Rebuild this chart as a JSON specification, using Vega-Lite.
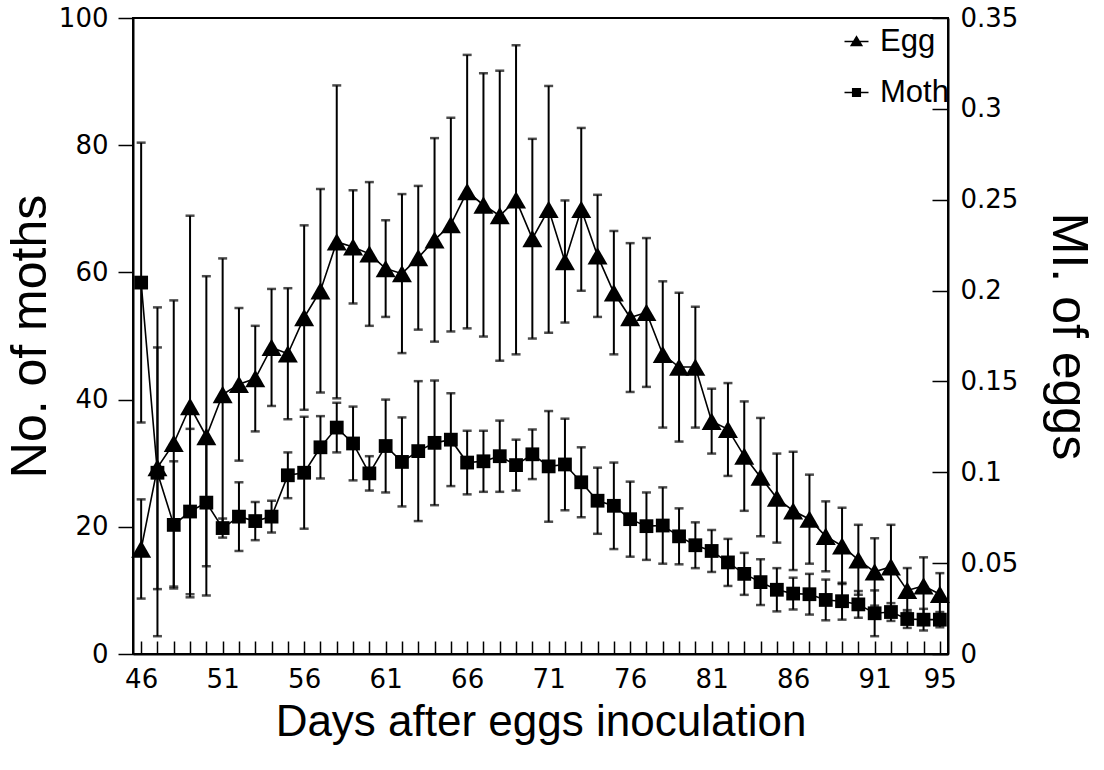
{
  "$schema": "https://vega.github.io/schema/vega-lite/v6.json",
  "width": 815,
  "height": 636,
  "autosize": {"type": "none"},
  "padding": {"left": 133, "top": 18, "right": 156, "bottom": 116},
  "background": "white",
  "config": {
    "view": {"stroke": "black", "strokeWidth": 2},
    "font": "Liberation Sans",
    "axis": {"grid": false, "domainColor": "black", "domainWidth": 2, "tickColor": "black", "tickWidth": 1.5, "labelColor": "black", "titleColor": "black", "titleFontWeight": "normal", "titleFont": "Liberation Sans", "labelFont": "DejaVu Sans"}
  },
  "datasets": {
    "moth": [
      {"day": 46, "series": "Moth", "v": 58.4, "lo": 36.4, "hi": 80.4},
      {"day": 47, "series": "Moth", "v": 28.5, "lo": 2.8, "hi": 54.5},
      {"day": 48, "series": "Moth", "v": 20.3, "lo": 10.3, "hi": 30.3},
      {"day": 49, "series": "Moth", "v": 22.4, "lo": 9.4, "hi": 35.4},
      {"day": 50, "series": "Moth", "v": 23.8, "lo": 13.8, "hi": 33.8},
      {"day": 51, "series": "Moth", "v": 19.8, "lo": 18.3, "hi": 21.3},
      {"day": 52, "series": "Moth", "v": 21.6, "lo": 16.2, "hi": 27.0},
      {"day": 53, "series": "Moth", "v": 20.9, "lo": 17.9, "hi": 23.9},
      {"day": 54, "series": "Moth", "v": 21.6, "lo": 19.1, "hi": 24.1},
      {"day": 55, "series": "Moth", "v": 28.1, "lo": 24.5, "hi": 31.7},
      {"day": 56, "series": "Moth", "v": 28.5, "lo": 19.7, "hi": 37.3},
      {"day": 57, "series": "Moth", "v": 32.5, "lo": 27.6, "hi": 37.4},
      {"day": 58, "series": "Moth", "v": 35.6, "lo": 31.7, "hi": 39.5},
      {"day": 59, "series": "Moth", "v": 33.1, "lo": 27.3, "hi": 38.9},
      {"day": 60, "series": "Moth", "v": 28.4, "lo": 25.7, "hi": 31.1},
      {"day": 61, "series": "Moth", "v": 32.7, "lo": 25.4, "hi": 40.0},
      {"day": 62, "series": "Moth", "v": 30.2, "lo": 23.2, "hi": 37.2},
      {"day": 63, "series": "Moth", "v": 31.9, "lo": 20.9, "hi": 42.9},
      {"day": 64, "series": "Moth", "v": 33.2, "lo": 23.4, "hi": 43.0},
      {"day": 65, "series": "Moth", "v": 33.7, "lo": 26.4, "hi": 41.0},
      {"day": 66, "series": "Moth", "v": 30.1, "lo": 25.1, "hi": 35.1},
      {"day": 67, "series": "Moth", "v": 30.3, "lo": 25.5, "hi": 35.1},
      {"day": 68, "series": "Moth", "v": 31.1, "lo": 25.5, "hi": 36.7},
      {"day": 69, "series": "Moth", "v": 29.7, "lo": 25.7, "hi": 33.7},
      {"day": 70, "series": "Moth", "v": 31.4, "lo": 27.5, "hi": 35.3},
      {"day": 71, "series": "Moth", "v": 29.5, "lo": 20.8, "hi": 38.2},
      {"day": 72, "series": "Moth", "v": 29.8, "lo": 22.6, "hi": 37.0},
      {"day": 73, "series": "Moth", "v": 27.0, "lo": 21.5, "hi": 32.5},
      {"day": 74, "series": "Moth", "v": 24.1, "lo": 18.9, "hi": 29.3},
      {"day": 75, "series": "Moth", "v": 23.3, "lo": 16.5, "hi": 30.1},
      {"day": 76, "series": "Moth", "v": 21.2, "lo": 15.3, "hi": 27.1},
      {"day": 77, "series": "Moth", "v": 20.1, "lo": 14.8, "hi": 25.4},
      {"day": 78, "series": "Moth", "v": 20.2, "lo": 14.2, "hi": 26.2},
      {"day": 79, "series": "Moth", "v": 18.5, "lo": 14.1, "hi": 22.9},
      {"day": 80, "series": "Moth", "v": 17.1, "lo": 13.5, "hi": 20.7},
      {"day": 81, "series": "Moth", "v": 16.2, "lo": 12.9, "hi": 19.5},
      {"day": 82, "series": "Moth", "v": 14.4, "lo": 10.7, "hi": 18.1},
      {"day": 83, "series": "Moth", "v": 12.6, "lo": 9.3, "hi": 15.9},
      {"day": 84, "series": "Moth", "v": 11.3, "lo": 7.7, "hi": 14.9},
      {"day": 85, "series": "Moth", "v": 10.1, "lo": 6.7, "hi": 13.5},
      {"day": 86, "series": "Moth", "v": 9.5, "lo": 7.0, "hi": 12.0},
      {"day": 87, "series": "Moth", "v": 9.4, "lo": 6.2, "hi": 12.6},
      {"day": 88, "series": "Moth", "v": 8.5, "lo": 5.3, "hi": 11.7},
      {"day": 89, "series": "Moth", "v": 8.3, "lo": 5.4, "hi": 11.2},
      {"day": 90, "series": "Moth", "v": 7.8, "lo": 5.7, "hi": 9.9},
      {"day": 91, "series": "Moth", "v": 6.4, "lo": 2.8, "hi": 10.0},
      {"day": 92, "series": "Moth", "v": 6.6, "lo": 5.2, "hi": 8.0},
      {"day": 93, "series": "Moth", "v": 5.5, "lo": 4.1, "hi": 6.9},
      {"day": 94, "series": "Moth", "v": 5.4, "lo": 3.7, "hi": 7.1},
      {"day": 95, "series": "Moth", "v": 5.4, "lo": 4.2, "hi": 6.6}
    ],
    "egg": [
      {"day": 46, "series": "Egg", "v": 0.0578, "lo": 0.0305, "hi": 0.0851},
      {"day": 47, "series": "Egg", "v": 0.1026, "lo": 0.0357, "hi": 0.1687},
      {"day": 48, "series": "Egg", "v": 0.1159, "lo": 0.0371, "hi": 0.1946},
      {"day": 49, "series": "Egg", "v": 0.1362, "lo": 0.0312, "hi": 0.2412},
      {"day": 50, "series": "Egg", "v": 0.1197, "lo": 0.0322, "hi": 0.2079},
      {"day": 51, "series": "Egg", "v": 0.1428, "lo": 0.0679, "hi": 0.2177},
      {"day": 52, "series": "Egg", "v": 0.1484, "lo": 0.1064, "hi": 0.1904},
      {"day": 53, "series": "Egg", "v": 0.1516, "lo": 0.1225, "hi": 0.1806},
      {"day": 54, "series": "Egg", "v": 0.1687, "lo": 0.1365, "hi": 0.2009},
      {"day": 55, "series": "Egg", "v": 0.1652, "lo": 0.1292, "hi": 0.2013},
      {"day": 56, "series": "Egg", "v": 0.1852, "lo": 0.1344, "hi": 0.2359},
      {"day": 57, "series": "Egg", "v": 0.1999, "lo": 0.1439, "hi": 0.2559},
      {"day": 58, "series": "Egg", "v": 0.2268, "lo": 0.1407, "hi": 0.3129},
      {"day": 59, "series": "Egg", "v": 0.2240, "lo": 0.1929, "hi": 0.2552},
      {"day": 60, "series": "Egg", "v": 0.2202, "lo": 0.1806, "hi": 0.2597},
      {"day": 61, "series": "Egg", "v": 0.2121, "lo": 0.1855, "hi": 0.2387},
      {"day": 62, "series": "Egg", "v": 0.2093, "lo": 0.1656, "hi": 0.2531},
      {"day": 63, "series": "Egg", "v": 0.2181, "lo": 0.1785, "hi": 0.2576},
      {"day": 64, "series": "Egg", "v": 0.2279, "lo": 0.1719, "hi": 0.2839},
      {"day": 65, "series": "Egg", "v": 0.2363, "lo": 0.1775, "hi": 0.2951},
      {"day": 66, "series": "Egg", "v": 0.2545, "lo": 0.1792, "hi": 0.3297},
      {"day": 67, "series": "Egg", "v": 0.2471, "lo": 0.1747, "hi": 0.3196},
      {"day": 68, "series": "Egg", "v": 0.2412, "lo": 0.1614, "hi": 0.3210},
      {"day": 69, "series": "Egg", "v": 0.2499, "lo": 0.1649, "hi": 0.3350},
      {"day": 70, "series": "Egg", "v": 0.2286, "lo": 0.1736, "hi": 0.2835},
      {"day": 71, "series": "Egg", "v": 0.2447, "lo": 0.1768, "hi": 0.3126},
      {"day": 72, "series": "Egg", "v": 0.2160, "lo": 0.1824, "hi": 0.2496},
      {"day": 73, "series": "Egg", "v": 0.2447, "lo": 0.1999, "hi": 0.2895},
      {"day": 74, "series": "Egg", "v": 0.2191, "lo": 0.1855, "hi": 0.2527},
      {"day": 75, "series": "Egg", "v": 0.1988, "lo": 0.1649, "hi": 0.2328},
      {"day": 76, "series": "Egg", "v": 0.1852, "lo": 0.1442, "hi": 0.2261},
      {"day": 77, "series": "Egg", "v": 0.1880, "lo": 0.1470, "hi": 0.2289},
      {"day": 78, "series": "Egg", "v": 0.1649, "lo": 0.1246, "hi": 0.2051},
      {"day": 79, "series": "Egg", "v": 0.1579, "lo": 0.1169, "hi": 0.1988},
      {"day": 80, "series": "Egg", "v": 0.1579, "lo": 0.1246, "hi": 0.1911},
      {"day": 81, "series": "Egg", "v": 0.1281, "lo": 0.1103, "hi": 0.1460},
      {"day": 82, "series": "Egg", "v": 0.1236, "lo": 0.0980, "hi": 0.1491},
      {"day": 83, "series": "Egg", "v": 0.1089, "lo": 0.0788, "hi": 0.1390},
      {"day": 84, "series": "Egg", "v": 0.0973, "lo": 0.0648, "hi": 0.1299},
      {"day": 85, "series": "Egg", "v": 0.0858, "lo": 0.0613, "hi": 0.1103},
      {"day": 86, "series": "Egg", "v": 0.0788, "lo": 0.0462, "hi": 0.1113},
      {"day": 87, "series": "Egg", "v": 0.0742, "lo": 0.0497, "hi": 0.0987},
      {"day": 88, "series": "Egg", "v": 0.0648, "lo": 0.0455, "hi": 0.0840},
      {"day": 89, "series": "Egg", "v": 0.0595, "lo": 0.0385, "hi": 0.0805},
      {"day": 90, "series": "Egg", "v": 0.0518, "lo": 0.0326, "hi": 0.0711},
      {"day": 91, "series": "Egg", "v": 0.0452, "lo": 0.0266, "hi": 0.0637},
      {"day": 92, "series": "Egg", "v": 0.0480, "lo": 0.0249, "hi": 0.0711},
      {"day": 93, "series": "Egg", "v": 0.0350, "lo": 0.0228, "hi": 0.0473},
      {"day": 94, "series": "Egg", "v": 0.0375, "lo": 0.0217, "hi": 0.0532},
      {"day": 95, "series": "Egg", "v": 0.0329, "lo": 0.0214, "hi": 0.0445}
    ]
  },
  "layer": [
    {
      "data": {"name": "moth"},
      "encoding": {
        "x": {
          "field": "day", "type": "quantitative",
          "scale": {"domain": [45.5, 95.5], "nice": false, "zero": false},
          "axis": {
            "title": "Days after eggs inoculation",
            "values": [46,51,56,61,66,71,76,81,86,91,95],
            "labelOverlap": false,
            "labelFlush": false,
            "ticks": false,
            "labelPadding": 12,
            "labelFontSize": 26,
            "titleFontSize": 44,
            "titlePadding": 8
          }
        }
      },
      "layer": [
        {
          "mark": {"type": "errorbar", "color": "black", "thickness": 2, "ticks": {"size": 9, "thickness": 2.5}},
          "encoding": {
            "y": {"field": "lo", "type": "quantitative", "scale": {"domain": [0, 100], "nice": false},
              "axis": {"title": "No. of moths", "orient": "left", "values": [0,20,40,60,80,100], "tickSize": 15, "labelPadding": 10, "labelFontSize": 26, "titleFontSize": 50, "titlePadding": 3}},
            "y2": {"field": "hi"}
          }
        },
        {
          "mark": {"type": "line", "color": "black", "strokeWidth": 1.6},
          "encoding": {
            "y": {"field": "v", "type": "quantitative", "scale": {"domain": [0, 100], "nice": false},
              "axis": {"title": "No. of moths", "orient": "left", "values": [0,20,40,60,80,100], "tickSize": 15, "labelPadding": 10, "labelFontSize": 26, "titleFontSize": 50, "titlePadding": 3}}
          }
        },
        {
          "mark": {"type": "point", "filled": true, "color": "black", "opacity": 1, "size": 190, "shape": "square"},
          "encoding": {
            "y": {"field": "v", "type": "quantitative", "scale": {"domain": [0, 100], "nice": false},
              "axis": {"title": "No. of moths", "orient": "left", "values": [0,20,40,60,80,100], "tickSize": 15, "labelPadding": 10, "labelFontSize": 26, "titleFontSize": 50, "titlePadding": 3}}
          }
        },
        {
          "mark": {"type": "point", "filled": true, "color": "black", "opacity": 0, "size": 10},
          "encoding": {
            "y": {"field": "v", "type": "quantitative", "scale": {"domain": [0, 100], "nice": false},
              "axis": {"title": "No. of moths", "orient": "left", "values": [0,20,40,60,80,100], "tickSize": 15, "labelPadding": 10, "labelFontSize": 26, "titleFontSize": 50, "titlePadding": 3}},
            "shape": {
              "field": "series", "type": "nominal",
              "scale": {"domain": ["Egg", "Moth"], "range": ["M-1,-0.07H1V0.07H-1ZM-0.55,0.4L0,-0.52L0.55,0.4Z", "M-1,-0.07H1V0.07H-1ZM-0.38,-0.38H0.38V0.38H-0.38Z"]},
              "legend": {
                "title": null, "orient": "none", "legendX": 708, "legendY": 8,
                "labelFontSize": 31, "labelFont": "Liberation Sans", "labelColor": "black",
                "symbolSize": 576, "symbolOpacity": 1, "symbolFillColor": "black", "symbolStrokeColor": "black", "symbolStrokeWidth": 0,
                "labelOffset": 8, "rowPadding": 19, "padding": 0
              }
            }
          }
        }
      ]
    },
    {
      "data": {"name": "egg"},
      "encoding": {
        "x": {
          "field": "day", "type": "quantitative",
          "scale": {"domain": [45.5, 95.5], "nice": false, "zero": false},
          "axis": {
            "title": null,
            "orient": "bottom",
            "offset": -13,
            "domain": false,
            "labels": false,
            "ticks": true,
            "tickSize": 13,
            "tickWidth": 1.5,
            "values": [46,47,48,49,50,51,52,53,54,55,56,57,58,59,60,61,62,63,64,65,66,67,68,69,70,71,72,73,74,75,76,77,78,79,80,81,82,83,84,85,86,87,88,89,90,91,92,93,94,95]
          }
        }
      },
      "layer": [
        {
          "mark": {"type": "errorbar", "color": "black", "thickness": 2, "ticks": {"size": 9, "thickness": 2.5}},
          "encoding": {
            "y": {"field": "lo", "type": "quantitative", "scale": {"domain": [0, 0.35], "nice": false},
              "axis": {"title": null, "orient": "right", "offset": -16, "domain": false, "labels": false, "ticks": true, "tickSize": 16, "tickWidth": 1.5, "values": [0,0.05,0.1,0.15,0.2,0.25,0.3,0.35]}},
            "y2": {"field": "hi"}
          }
        },
        {
          "mark": {"type": "line", "color": "black", "strokeWidth": 1.6},
          "encoding": {
            "y": {"field": "v", "type": "quantitative", "scale": {"domain": [0, 0.35], "nice": false},
              "axis": {"title": "MI. of eggs", "orient": "right", "values": [0,0.05,0.1,0.15,0.2,0.25,0.3,0.35], "format": "~g", "ticks": false, "labelPadding": 12, "labelFontSize": 26, "titleFontSize": 50, "titlePadding": 25}}
          }
        },
        {
          "mark": {"type": "point", "filled": true, "color": "black", "opacity": 1, "size": 400, "shape": "triangle-up"},
          "encoding": {
            "y": {"field": "v", "type": "quantitative", "scale": {"domain": [0, 0.35], "nice": false}, "axis": null}
          }
        }
      ],
      "resolve": {"axis": {"y": "independent"}}
    }
  ],
  "resolve": {"scale": {"y": "independent"}, "axis": {"x": "independent", "y": "independent"}}
}
